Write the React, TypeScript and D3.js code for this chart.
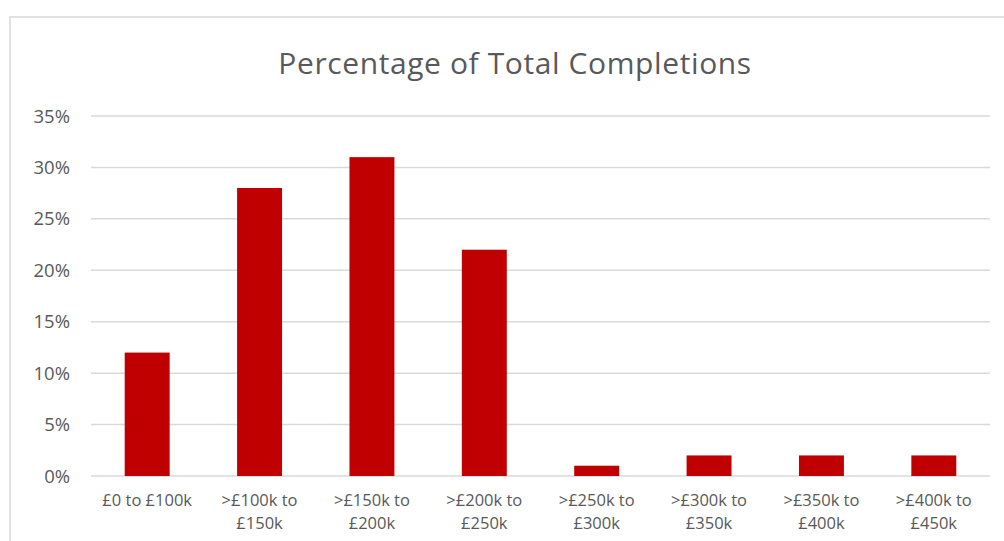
import React from "react";
import * as d3 from "d3";

const categories: string[][] = [
  ["£0 to £100k"],
  [">£100k to", "£150k"],
  [">£150k to", "£200k"],
  [">£200k to", "£250k"],
  [">£250k to", "£300k"],
  [">£300k to", "£350k"],
  [">£350k to", "£400k"],
  [">£400k to", "£450k"],
];
const values: number[] = [12, 28, 31, 22, 1, 2, 2, 2];
const yTicks: number[] = [0, 5, 10, 15, 20, 25, 30, 35];
const title = "Percentage of Total Completions";

const W = 1004;
const H = 541;
const FONT = "'Open Sans', 'Noto Sans', sans-serif";

export default function App() {
  const left = 91;
  const right = 990;
  const top = 116;
  const bottom = 476;
  const keys = categories.map((_, i) => String(i));
  const x = d3.scaleBand<string>().domain(keys).range([left, right]).paddingInner(0.6).paddingOuter(0.3);
  const y = d3.scaleLinear().domain([0, 35]).range([bottom, top]);

  return (
    <svg width={W} height={H} style={{ position: "absolute", left: 0, top: 0 }}>
      <rect x={0} y={0} width={W} height={H} fill="#fff" />
      <rect x={10} y={17} width={W + 20} height={H + 20} fill="#fff" stroke="#d9d9d9" strokeWidth={1.5} />
      <text x={515} y={74} textAnchor="middle" fontFamily={FONT} fontSize={30} letterSpacing={0.6} fill="#595959">
        {title}
      </text>
      {yTicks.map((t) => (
        <g key={t}>
          <line x1={left} x2={right} y1={y(t)} y2={y(t)} stroke="#d9d9d9" strokeWidth={1.5} />
          <text x={70} y={y(t) + 6.5} textAnchor="end" fontFamily={FONT} fontSize={18.5} fill="#595959">
            {t}%
          </text>
        </g>
      ))}
      {values.map((v, i) => (
        <rect key={i} x={x(String(i))} y={y(v)} width={x.bandwidth()} height={y(0) - y(v)} fill="#C00000" />
      ))}
      {categories.map((lines, i) => (
        <text key={i} textAnchor="middle" fontFamily={FONT} fontSize={16.5} fill="#595959">
          {lines.map((l, j) => (
            <tspan key={j} x={(x(String(i)) as number) + x.bandwidth() / 2} y={506 + j * 23}>
              {l}
            </tspan>
          ))}
        </text>
      ))}
    </svg>
  );
}
